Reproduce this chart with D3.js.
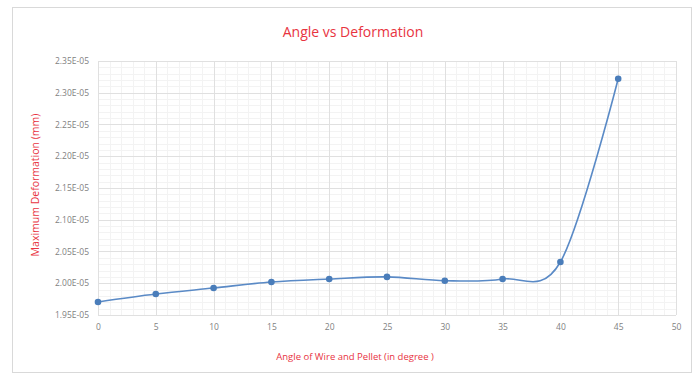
<!DOCTYPE html>
<html>
<head>
<meta charset="utf-8">
<script src="https://cdn.jsdelivr.net/npm/d3@7/dist/d3.min.js"></script>
<style>
html,body{margin:0;padding:0;background:#fff;}
svg{display:block;font-family:"Open Sans",sans-serif;}
</style>
</head>
<body>
<svg id="chart" width="699" height="378"></svg>
<script>
const angles = [0, 5, 10, 15, 20, 25, 30, 35, 40, 45];
const deformation = [1.9705e-5, 1.983e-5, 1.9925e-5, 2.002e-5, 2.0067e-5, 2.010e-5, 2.004e-5, 2.0067e-5, 2.0335e-5, 2.322e-5];
const xTicks = [0, 5, 10, 15, 20, 25, 30, 35, 40, 45, 50];
const yTicks = [1.95e-5, 2.00e-5, 2.05e-5, 2.10e-5, 2.15e-5, 2.20e-5, 2.25e-5, 2.30e-5, 2.35e-5];
const title = "Angle vs Deformation";
const xTitle = "Angle of Wire and Pellet (in degree )";
const yTitle = "Maximum Deformation (mm)";

const svg = d3.select("#chart");
const m = {left: 98, right: 676, top: 61, bottom: 315};

svg.append("rect").attr("x", 12.5).attr("y", 7.5).attr("width", 679).attr("height", 365)
  .attr("fill", "#fff").attr("stroke", "#d9d9d9");

const x = d3.scaleLinear().domain([0, 50]).range([m.left, m.right]);
const y = d3.scaleLinear().domain([1.95e-5, 2.35e-5]).range([m.bottom, m.top]);

// minor grid
const xMinor = d3.range(0, 51, 1).filter(v => v % 5 !== 0);
const yMinor = d3.range(195, 236, 1).filter(v => v % 5 !== 0).map(v => v * 1e-7);
const g = svg.append("g");
g.selectAll(".xm").data(xMinor).join("line")
  .attr("x1", d => Math.round(x(d)) + 0.5).attr("x2", d => Math.round(x(d)) + 0.5)
  .attr("y1", m.top).attr("y2", m.bottom).attr("stroke", "#f3f3f3");
g.selectAll(".ym").data(yMinor).join("line")
  .attr("y1", d => Math.round(y(d)) + 0.5).attr("y2", d => Math.round(y(d)) + 0.5)
  .attr("x1", m.left).attr("x2", m.right).attr("stroke", "#f3f3f3");
// major grid
g.selectAll(".xM").data(xTicks).join("line")
  .attr("x1", d => Math.round(x(d)) + 0.5).attr("x2", d => Math.round(x(d)) + 0.5)
  .attr("y1", m.top).attr("y2", m.bottom).attr("stroke", "#e0e0e0");
g.selectAll(".yM").data(yTicks).join("line")
  .attr("y1", d => Math.round(y(d)) + 0.5).attr("y2", d => Math.round(y(d)) + 0.5)
  .attr("x1", m.left).attr("x2", m.right).attr("stroke", "#e0e0e0");

// axes
const fmt = v => (v / 1e-5).toFixed(2) + "E-05";
const yAxis = d3.axisLeft(y).tickValues(yTicks).tickFormat(fmt).tickSize(0).tickPadding(9);
const ya = svg.append("g").attr("transform", `translate(${m.left},0)`).call(yAxis);
ya.select(".domain").remove();
ya.selectAll("text").attr("fill", "#7f7f7f").style("font-size", "8.5px").style("font-family", "'Open Sans',sans-serif");

const xAxis = d3.axisBottom(x).tickValues(xTicks).tickFormat(d3.format("d")).tickSize(0).tickPadding(9);
const xa = svg.append("g").attr("transform", `translate(0,${m.bottom})`).call(xAxis);
xa.select(".domain").remove();
xa.selectAll("text").attr("fill", "#7f7f7f").style("font-size", "8.5px").style("font-family", "'Open Sans',sans-serif");

// line
const line = d3.line().x((d, i) => x(angles[i])).y(d => y(d)).curve(d3.curveCardinal.tension(0));
svg.append("path").datum(deformation).attr("d", line)
  .attr("fill", "none").attr("stroke", "#5a8ac6").attr("stroke-width", 1.6);
svg.selectAll(".pt").data(deformation).join("circle")
  .attr("cx", (d, i) => x(angles[i])).attr("cy", d => y(d)).attr("r", 3.3)
  .attr("fill", "#4a7dba");

// titles
svg.append("text").attr("x", 353).attr("y", 37).attr("text-anchor", "middle")
  .attr("fill", "#e8343f").style("font-size", "14px").text(title);
svg.append("text").attr("x", 355).attr("y", 360).attr("text-anchor", "middle")
  .attr("fill", "#e8343f").style("font-size", "9.5px").text(xTitle);
svg.append("text").attr("transform", "translate(39,185) rotate(-90)").attr("text-anchor", "middle")
  .attr("fill", "#e8343f").style("font-size", "10.5px").text(yTitle);
</script>
</body>
</html>
